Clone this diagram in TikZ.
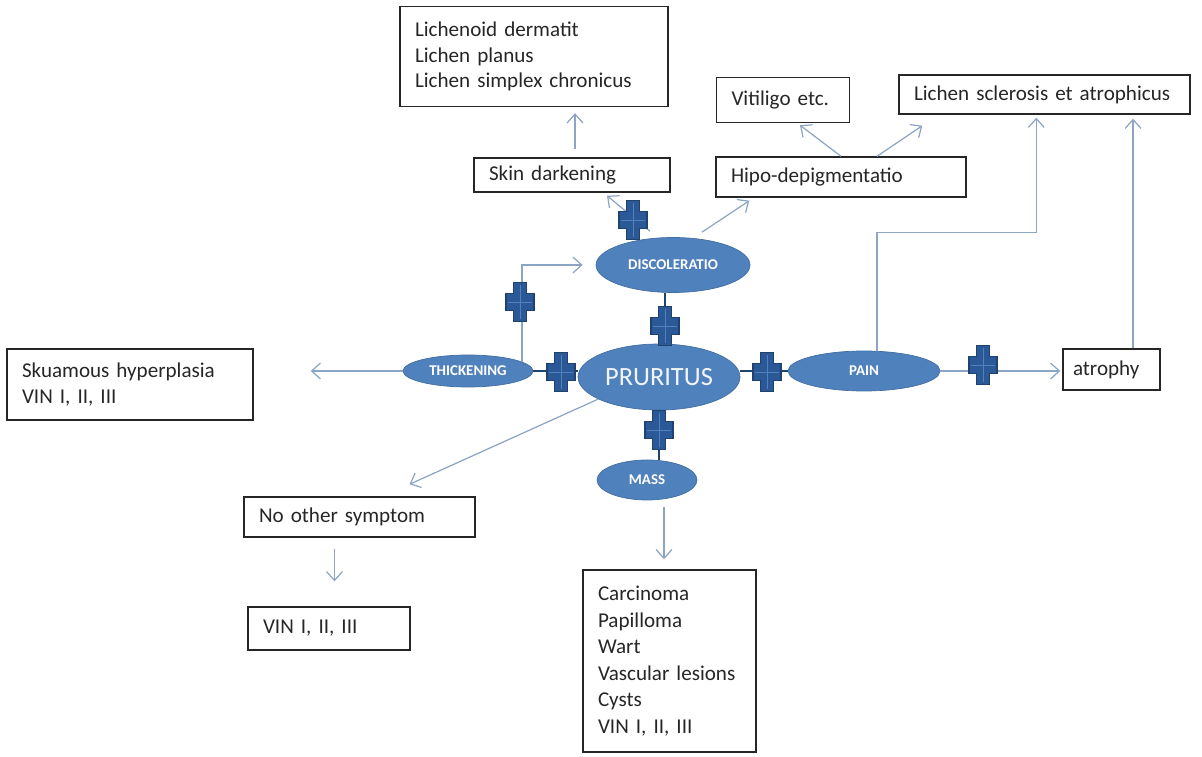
\documentclass[tikz,border=0pt]{standalone}
\usepackage{fontspec}
\setmainfont{Carlito}
\usetikzlibrary{shapes.geometric,arrows.meta}
\definecolor{ellblue}{HTML}{4F81BD}
\definecolor{crossfill}{HTML}{2B5896}
\definecolor{crossedge}{HTML}{20426E}
\definecolor{arrowblue}{HTML}{8DA5C4}

\begin{document}
\begin{tikzpicture}[font=\fontsize{12}{14.7}\selectfont,
  box/.style={draw=black!85, line width=0.8pt, align=left, inner xsep=0.3cm, inner ysep=2pt, text=black!85},
  ell/.style={ellipse, fill=ellblue, draw=ellblue!85!black, line width=0.4pt, text=white, inner sep=0pt,
    font=\fontsize{8.5}{10}\selectfont\bfseries},
  arr/.style={-{Straight Barb[length=5pt,width=9pt]}, draw=arrowblue, line width=0.7pt},
  link/.style={draw=crossedge, line width=1.1pt},
  plussign/.pic={
    \filldraw[fill=crossfill, draw=crossedge, line width=0.6pt]
      (-0.13,0.39) -- (0.13,0.39) -- (0.13,0.17) -- (0.28,0.17) -- (0.28,-0.17) -- (0.13,-0.17)
      -- (0.13,-0.39) -- (-0.13,-0.39) -- (-0.13,-0.17) -- (-0.28,-0.17) -- (-0.28,0.17) -- (-0.13,0.17) -- cycle;
    \draw[ellblue, line width=0.4pt] (0,-0.34) -- (0,0.34) (-0.24,0) -- (0.24,0);
  }]
  \useasboundingbox (0,0) rectangle (24.04,15.12);

  % boxes
  \node[box, text width=4.76cm, minimum height=2.0cm] (lichen) at (10.68,13.99) {Lichenoid dermatit\\Lichen planus\\Lichen simplex chronicus};
  \node[box, text width=3.32cm, minimum height=0.68cm] (skin) at (11.44,11.62) {Skin darkening};
  \node[box, text width=4.40cm, minimum height=0.80cm] (hipo) at (16.82,11.58) {Hipo-depigmentatio};
  \node[box, text width=2.06cm, minimum height=0.90cm] (vitiligo) at (15.66,13.12) {Vitiligo etc.};
  \node[box, text width=5.22cm, minimum height=0.78cm] (lsa) at (20.89,13.23) {Lichen sclerosis et atrophicus};
  \node[box, text width=4.32cm, minimum height=1.42cm] (skua) at (2.60,7.43) {Skuamous hyperplasia\\VIN I, II, III};
  \node[box, text width=1.54cm, minimum height=0.82cm, inner xsep=0.2cm] (atrophy) at (22.23,7.73) {atrophy};
  \node[box, text width=4.02cm, minimum height=0.80cm] (noother) at (7.19,4.78) {No other symptom};
  \node[box, text width=2.64cm, minimum height=0.86cm] (vin) at (6.58,2.55) {VIN I, II, III};
  \node[box, text width=2.86cm, minimum height=3.64cm, font=\fontsize{12}{15.1}\selectfont] (masslist) at (13.39,1.90)
    {Carcinoma\\Papilloma\\Wart\\Vascular lesions\\Cysts\\VIN I, II, III};

  % ellipses
  \node[ell, minimum width=3.24cm, minimum height=1.32cm, font=\fontsize{15}{18}\selectfont, text=white!92!ellblue] (prur) at (13.18,7.58) {PRURITUS};
  \node[ell, minimum width=2.60cm, minimum height=0.64cm] (thick) at (9.36,7.70) {THICKENING};
  \node[ell, minimum width=3.08cm, minimum height=1.10cm] (discol) at (13.46,9.82) {DISCOLERATIO};
  \node[ell, minimum width=3.04cm, minimum height=0.80cm] (pain) at (17.28,7.70) {PAIN};
  \node[ell, minimum width=2.00cm, minimum height=0.80cm] (mass) at (12.94,5.52) {MASS};

  % short links through the crosses
  \coordinate (dp) at ([xshift=-0.16cm]discol.south);
  \draw[link] (thick.east) -- (thick.east -| prur.west);
  \draw[link] (dp) -- (dp |- prur.north);
  \draw[link] (pain.west -| prur.east) -- (pain.west);
  \draw[link] (prur.south) -- (prur.south |- mass.north);

  % arrows
  \coordinate (sk) at ([xshift=0.06cm]skin.north);
  \coordinate (atop) at ([xshift=0.43cm]atrophy.north);
  \coordinate (tk) at ([xshift=1.08cm,yshift=-0.14cm]thick.north);
  \coordinate (no) at ([xshift=-0.5cm]noother.south);
  \coordinate (ml) at ([xshift=-0.11cm]masslist.north);
  \draw[arr, shorten <=0.16cm, shorten >=0.12cm] (sk) -- (sk |- lichen.south);
  \draw[arr] ([xshift=-0.46cm,yshift=0.12cm]discol.north) -- ([xshift=0.7cm,yshift=-0.06cm]skin.south);
  \draw[arr] ([xshift=0.58cm,yshift=0.1cm]discol.north) -- ([xshift=0.68cm,yshift=-0.06cm]hipo.south west);
  \draw[arr] (hipo.north) -- ([xshift=0.34cm,yshift=-0.04cm]vitiligo.south);
  \draw[arr] ([xshift=0.72cm]hipo.north) -- ([xshift=0.48cm,yshift=-0.22cm]lsa.south west);
  \draw[arr] ([xshift=0.26cm]pain.north) -- ++(0,2.36) -| ([xshift=2.76cm,yshift=-0.06cm]lsa.south west);
  \draw[arr, shorten >=0.08cm] (atop) -- (atop |- lsa.south);
  \draw[arr, shorten >=0.04cm] (pain.east) -- (pain.east -| atrophy.west);
  \draw[arr, shorten >=0.26cm] (tk) |- (discol.west);
  \draw[arr, shorten >=1.14cm] (thick.west) -- (thick.west -| skua.east);
  \draw[arr] (prur.200) -- ([xshift=1.0cm,yshift=0.24cm]noother.north);
  \draw[arr, shorten <=0.22cm, shorten >=0.5cm] (no) -- (no |- vin.north);
  \draw[arr, shorten <=0.14cm, shorten >=0.2cm] (ml |- mass.south) -- (ml);

  % crosses
  \pic at (12.66,10.72) {plussign};
  \pic at (10.40,9.08) {plussign};
  \pic at (13.30,8.60) {plussign};
  \pic at (11.22,7.68) {plussign};
  \pic at (15.34,7.68) {plussign};
  \pic at (19.66,7.82) {plussign};
  \pic at (13.18,6.52) {plussign};
\end{tikzpicture}
\end{document}
